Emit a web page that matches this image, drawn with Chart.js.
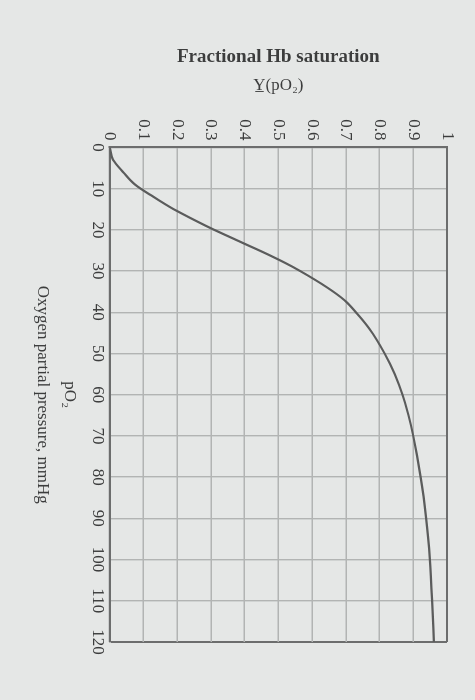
<!DOCTYPE html>
<html>
<head>
<meta charset="utf-8">
<script src="https://cdn.jsdelivr.net/npm/chart.js@4.4.1/dist/chart.umd.min.js"></script>
<style>
  html, body { margin: 0; padding: 0; background: #e5e7e6; }
  #wrap { position: relative; width: 475px; height: 700px; overflow: hidden; background: #e5e7e6; }
  /* the figure is printed sideways, so the canvas is turned a quarter turn clockwise */
  #myChart { position: absolute; left: 0; top: 0; transform-origin: 0 0; transform: translate(475px, 0) rotate(90deg); }
</style>
</head>
<body>
<div id="wrap"><canvas id="myChart" width="700" height="475"></canvas></div>
<script>
// oxygen partial pressure (mmHg) and fractional saturation
var po2 = [0, 3, 6, 9, 12, 15, 18, 20, 23, 26, 28, 30, 34, 37, 40, 44, 50, 55, 60, 65, 70, 80, 90, 100, 110, 120];
var saturation = [0, 0.01, 0.04, 0.075, 0.13, 0.19, 0.26, 0.31, 0.39, 0.47, 0.52, 0.565, 0.645, 0.695, 0.73, 0.77, 0.815, 0.845, 0.868, 0.886, 0.9, 0.922, 0.938, 0.949, 0.956, 0.961];

var satTicks = ['0', '0.1', '0.2', '0.3', '0.4', '0.5', '0.6', '0.7', '0.8', '0.9', '1'];
var po2Ticks = ['0', '10', '20', '30', '40', '50', '60', '70', '80', '90', '100', '110', '120'];

var serif = "'Liberation Serif', 'DejaVu Serif', serif";
var textColor = '#3c3d3d';
var gridColor = '#b2b4b3';
var boxColor = '#6c6d6d';

var points = [];
for (var i = 0; i < po2.length; i++) {
    points.push({ x: po2[i], y: saturation[i] });
}

var ctx = document.getElementById("myChart").getContext("2d");

var myChart = new Chart(ctx, {
    type: 'scatter',
    data: {
        datasets: [{
            data: points,
            showLine: true,
            borderColor: '#5b5c5c',
            borderWidth: 2.2,
            pointRadius: 0,
            cubicInterpolationMode: 'monotone'
        }]
    },
    options: {
        responsive: false,
        maintainAspectRatio: false,
        animation: false,
        layout: {
            padding: { left: 41, right: 58, top: 28, bottom: 26 }
        },
        plugins: {
            legend: { display: false },
            tooltip: { enabled: false },
            title: {
                display: true,
                position: 'left',
                fullSize: false,
                text: 'Fractional Hb saturation',
                color: textColor,
                font: { family: serif, size: 19, weight: 'bold' },
                padding: 5
            }
        },
        scales: {
            x: {
                type: 'linear',
                position: 'bottom',
                min: 0,
                max: 120,
                ticks: {
                    stepSize: 10,
                    padding: 5,
                    color: textColor,
                    font: { family: serif, size: 17, lineHeight: 0.9 },
                    maxRotation: 0,
                    callback: function(value, index) { return po2Ticks[index]; }
                },
                grid: {
                    drawTicks: false,
                    lineWidth: function(c) { return c.tick && c.tick.value === 120 ? 2 : 1.4; },
                    color: function(c) { return c.tick && c.tick.value === 120 ? boxColor : gridColor; }
                },
                border: { color: boxColor, width: 2 },
                title: {
                    display: true,
                    text: ['pO\u2082', 'Oxygen partial pressure, mmHg'],
                    color: textColor,
                    font: { family: serif, size: 17, lineHeight: 1.6 },
                    padding: { top: 1, bottom: 3 }
                }
            },
            y: {
                type: 'linear',
                min: 0,
                max: 1,
                ticks: {
                    stepSize: 0.1,
                    padding: 7,
                    color: textColor,
                    font: { family: serif, size: 17 },
                    callback: function(value, index) { return satTicks[index]; }
                },
                grid: {
                    drawTicks: false,
                    lineWidth: function(c) { return c.tick && c.tick.value === 1 ? 2 : 1.4; },
                    color: function(c) { return c.tick && c.tick.value === 1 ? boxColor : gridColor; }
                },
                border: { color: boxColor, width: 2 },
                title: {
                    display: true,
                    text: 'Y\u0332(pO\u2082)',
                    color: textColor,
                    font: { family: serif, size: 17 },
                    padding: { top: 2, bottom: 16 }
                }
            }
        }
    }
});
</script>
</body>
</html>
